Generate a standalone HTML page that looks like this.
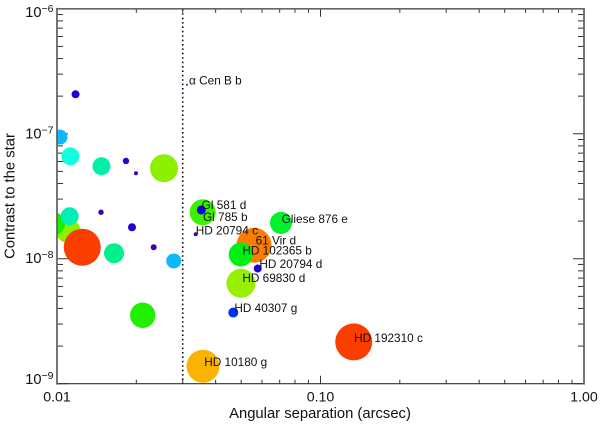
<!DOCTYPE html>
<html>
<head>
<meta charset="utf-8">
<title>Contrast vs angular separation</title>
<style>
html,body{margin:0;padding:0;background:#fff;width:600px;height:424px;overflow:hidden}
svg{display:block}
text{font-family:"Liberation Sans",sans-serif;fill:#111}
</style>
</head>
<body>
<svg id="chart" width="600" height="424" viewBox="0 0 600 424" xmlns="http://www.w3.org/2000/svg"></svg>
<script>
const separations = [0.01104,0.0097,0.01117,0.01247,0.01176,0.01026,0.01123,0.01475,0.01827,0.01994,0.02547,0.01469,0.01926,0.02328,0.02773,0.01646,0.02115,0.03581,0.1337,0.04667,0.05593,0.04979,0.04991,0.05778,0.07082,0.03572,0.03529,0.0336,0.03112];
const contrasts = [1.67e-8,1.905e-8,2.19e-8,1.236e-8,2.07e-7,9.4e-8,6.6e-8,5.5e-8,6.06e-8,4.83e-8,5.3e-8,2.355e-8,1.786e-8,1.236e-8,9.6e-9,1.107e-8,3.53e-9,1.38e-9,2.16e-9,3.71e-9,1.282e-8,1.08e-8,6.37e-9,8.35e-9,1.934e-8,2.355e-8,2.457e-8,1.57e-8,2.47e-7];
const planetSizes = [1.22,1.15,0.9,1.85,0.4,0.75,0.9,0.9,0.32,0.2,1.4,0.27,0.4,0.3,0.75,1.0,1.27,1.65,1.85,0.5,1.75,1.2,1.45,0.4,1.1,1.3,0.45,0.2,0.1];
const hues = [85,115,165,15,248,198,172,162,255,262,85,260,248,258,198,155,112,43,15,228,30,125,82,250,132,105,242,265,265];
const labelNames = ["\u03b1 Cen B b","Gl 581 d","Gl 785 b","HD 20794 c","Gliese 876 e","61 Vir d","HD 102365 b","HD 20794 d","HD 69830 d","HD 40307 g","HD 192310 c","HD 10180 g"];
const labelSeps = [0.0317,0.0354,0.0358,0.0336,0.0712,0.0567,0.0505,0.0586,0.0505,0.0471,0.1341,0.0362];
const labelContrasts = [2.47e-7,2.5e-8,2.01e-8,1.57e-8,1.934e-8,1.3e-8,1.08e-8,8.4e-9,6.5e-9,3.75e-9,2.16e-9,1.38e-9];
const xMajorTicks = [0.01,0.1,1];
const xTickLabels = ["0.01","0.10","1.00"];
const yExponents = [-6,-7,-8,-9];
const minorFactors = [2,3,4,5,6,7,8,9];
const innerWorkingAngle = 0.03;

const NS = "http://www.w3.org/2000/svg";
const svg = document.getElementById("chart");
const L = 57, R = 584, T = 8.8, B = 383.7;
function xScale(v){ return L + (Math.log10(v) + 2) / 2 * (R - L); }
function yScale(v){ return T + (-6 - Math.log10(v)) / 3 * (B - T); }
function rScale(v){ return v * 10; }
function colorScale(h){
  let l = 49;
  if (h > 60 && h < 170) l = 47;
  if (h >= 170 && h < 225) l = 53;
  if (h >= 225) l = 47 - (h - 240 > 0 ? (h - 240) * 0.55 : 0);
  return "hsl(" + h + ",100%," + l + "%)";
}
function make(tag, attrs, parent){
  const e = document.createElementNS(NS, tag);
  for (const k in attrs) e.setAttribute(k, attrs[k]);
  (parent || svg).appendChild(e);
  return e;
}

const defs = make("defs", {});
const clip = make("clipPath", {id:"plot-clip"}, defs);
make("rect", {x:L, y:T, width:R-L, height:B-T}, clip);

const axes = make("g", {});


function tick(x1, y1, x2, y2, w){
  const k = make("line", {x1:x1, y1:y1, x2:x2, y2:y2, stroke:"#333", "stroke-width":w || 1}, axes);
  
  
}
xMajorTicks.forEach(function(m, i){
  tick(xScale(m), B, xScale(m), B - 8);
  tick(xScale(m), T, xScale(m), T + 8);
  if (i < xMajorTicks.length - 1) minorFactors.forEach(function(f){
    tick(xScale(m * f), B, xScale(m * f), B - 4);
    tick(xScale(m * f), T, xScale(m * f), T + 4);
  });
  const t = make("text", {x:xScale(m), y:401.5, "font-size":14.2, "text-anchor":"middle"});
  t.textContent = xTickLabels[i];
  
  
});
yExponents.forEach(function(e, i){
  const m = Math.pow(10, e);
  tick(L, yScale(m), L + 11, yScale(m));
  tick(R, yScale(m), R - 11, yScale(m));
  if (i < yExponents.length - 1) minorFactors.forEach(function(f){
    const v = Math.pow(10, e - 1) * f;
    tick(L, yScale(v), L + 6, yScale(v));
    tick(R, yScale(v), R - 6, yScale(v));
  });
  const base = Math.min(Math.max(yScale(m) + 4.5, 17), 384);
  const t = make("text", {x:53.5, y:base, "font-size":14.6, "text-anchor":"end"});
  
  
  const a = make("tspan", {}, t);
  a.textContent = "10";
  const b = make("tspan", {dy:-5, "font-size":10.5});
  b.textContent = "\u2212" + Math.abs(e);
  t.appendChild(b);
});

const marks = make("g", {"clip-path":"url(#plot-clip)"});


separations.forEach(function(s, i){
  const c = make("circle", {cx:xScale(s), cy:yScale(contrasts[i]), r:rScale(planetSizes[i]), fill:colorScale(hues[i])}, marks);
  
  
});

const iwa = make("line", {x1:xScale(innerWorkingAngle), x2:xScale(innerWorkingAngle), y1:T, y2:B, stroke:"#111", "stroke-width":1.6, "stroke-dasharray":"1.6 2.8"});



labelNames.forEach(function(n, i){
  const t = make("text", {x:xScale(labelSeps[i]), y:yScale(labelContrasts[i]), "font-size":11.8});
  t.textContent = n;
  
  
});

function axisLine(x1, y1, x2, y2, w, c, name){
  const a = make("line", {x1:x1, y1:y1, x2:x2, y2:y2, stroke:c, "stroke-width":w, "stroke-linecap":"square"});
  
  
}
axisLine(L, T, R, T, 1.7, "#666", "top-axis");
axisLine(L, B, R, B, 1.2, "#333", "x-axis");
axisLine(L, T, L, B, 1.8, "#666", "y-axis");
axisLine(R, T, R, B, 1.8, "#666", "right-axis");

const xTitle = make("text", {x:320, y:418, "font-size":14.8, "text-anchor":"middle"});
xTitle.textContent = "Angular separation (arcsec)";


const yTitle = make("text", {x:0, y:0, "font-size":14.8, "text-anchor":"middle", transform:"translate(14.5,196) rotate(-90)"});
yTitle.textContent = "Contrast to the star";


</script>
</body>
</html>
